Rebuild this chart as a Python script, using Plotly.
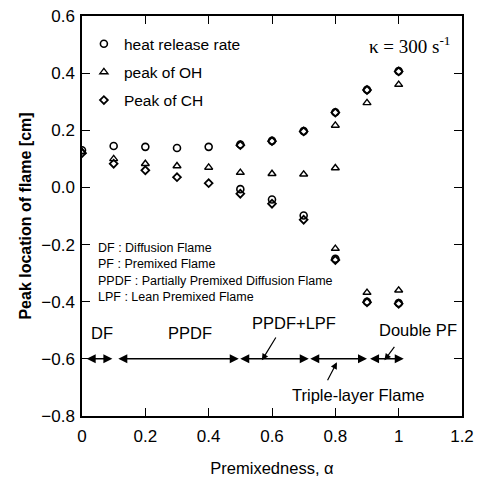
import plotly.graph_objects as go

# ---- data ----
hrr_alpha = [0.0, 0.1, 0.2, 0.3, 0.4, 0.5, 0.6, 0.7, 0.8, 0.9, 1.0,
             0.5, 0.6, 0.7, 0.8, 0.9, 1.0]
hrr_peak = [0.13, 0.145, 0.142, 0.138, 0.142, 0.15, 0.163, 0.197, 0.263, 0.342, 0.407,
            -0.006, -0.042, -0.098, -0.25, -0.40, -0.405]

oh_alpha = [0.0, 0.1, 0.2, 0.3, 0.4, 0.5, 0.6, 0.7, 0.8, 0.9, 1.0,
            0.8, 0.8, 0.9, 1.0]
oh_peak = [0.125, 0.10, 0.083, 0.075, 0.07, 0.052, 0.048, 0.046, 0.217, 0.296, 0.36,
           0.068, -0.214, -0.368, -0.36]

ch_alpha = [0.0, 0.1, 0.2, 0.3, 0.4, 0.5, 0.6, 0.7, 0.8, 0.9, 1.0,
            0.5, 0.6, 0.7, 0.8, 0.9, 1.0]
ch_peak = [0.12, 0.083, 0.06, 0.036, 0.015, -0.022, -0.057, -0.113, 0.262, 0.341, 0.406,
           0.148, 0.162, 0.196, -0.254, -0.402, -0.407]

# regime ranges along alpha (start, end) and their labels
regime_start = [0.01, 0.11, 0.495, 0.716, 0.905]
regime_end = [0.096, 0.495, 0.716, 0.90, 1.016]
regime_level = -0.6

x_ticks = [0, 0.2, 0.4, 0.6, 0.8, 1.0, 1.2]
x_ticktext = ["0", "0.2", "0.4", "0.6", "0.8", "1", "1.2"]
y_ticks = [-0.8, -0.6, -0.4, -0.2, 0.0, 0.2, 0.4, 0.6]

fig = go.Figure()
fig.add_trace(go.Scatter(x=hrr_alpha, y=hrr_peak, mode="markers", name="heat release rate",
                         legendgroup="a",
                         marker=dict(symbol="circle-open", size=7, color="black",
                                     line=dict(width=1.6, color="black"))))
fig.add_trace(go.Scatter(x=oh_alpha, y=oh_peak, mode="markers", name="peak of OH",
                         legendgroup="b",
                         marker=dict(symbol="triangle-up-open", size=7, color="black",
                                     line=dict(width=1.4, color="black"))))
fig.add_trace(go.Scatter(x=ch_alpha, y=ch_peak, mode="markers", name="Peak of CH",
                         legendgroup="c",
                         marker=dict(symbol="diamond-open", size=6, color="black",
                                     line=dict(width=1.8, color="black"))))

font = "Arial, Liberation Sans, sans-serif"

annotations = []
# double-headed arrows at regime level
for s, e in zip(regime_start, regime_end):
    annotations.append(dict(x=e, y=regime_level, ax=s, ay=regime_level,
                            xref="x", yref="y", axref="x", ayref="y",
                            text="", showarrow=True, arrowhead=2, arrowside="end+start",
                            arrowsize=1.2, arrowwidth=1.5, arrowcolor="black"))

# regime labels
labels = [("DF", 0.063, -0.51), ("PPDF", 0.34, -0.51), ("PPDF+LPF", 0.67, -0.475),
          ("Double PF", 1.06, -0.50), ("Triple-layer Flame", 0.87, -0.725)]
for t, x, y in labels:
    annotations.append(dict(x=x, y=y, xref="x", yref="y", text=t, showarrow=False,
                            font=dict(family=font, size=16.5, color="black")))

# pointer arrows
pointers = [(0.568, -0.605, 0.615, -0.52), (0.805, -0.612, 0.773, -0.68),
            (0.955, -0.605, 0.99, -0.553)]
for x, y, ax, ay in pointers:
    annotations.append(dict(x=x, y=y, ax=ax, ay=ay, xref="x", yref="y", axref="x", ayref="y",
                            text="", showarrow=True, arrowhead=2, arrowsize=1.1,
                            arrowwidth=1.2, arrowcolor="black"))

# definitions
annotations.append(dict(x=0.045, y=-0.18, xref="x", yref="y", xanchor="left", yanchor="top",
                        align="left", showarrow=False,
                        text="DF : Diffusion Flame<br>PF : Premixed Flame<br>"
                             "PPDF : Partially Premixed Diffusion Flame<br>LPF : Lean Premixed Flame",
                        font=dict(family=font, size=12.5, color="black")))

# kappa
annotations.append(dict(x=1.172, y=0.50, xref="x", yref="y", xanchor="right", showarrow=False,
                        text="κ = 300 s<sup>-1</sup>",
                        font=dict(family="Liberation Serif, Times New Roman, serif", size=19,
                                  color="black")))

fig.update_layout(
    width=481, height=477,
    margin=dict(l=82, r=19, t=16, b=61),
    plot_bgcolor="white", paper_bgcolor="white",
    font=dict(family=font, size=16, color="black"),
    showlegend=True,
    legend=dict(x=0.005, y=0.972, xanchor="left", yanchor="top", bgcolor="rgba(0,0,0,0)",
                font=dict(family=font, size=15.5, color="black"),
                traceorder="grouped", tracegroupgap=5),
    annotations=annotations,
    xaxis=dict(range=[0, 1.2], tickvals=x_ticks, ticktext=x_ticktext,
               ticks="inside", ticklen=8, tickwidth=1.2, tickcolor="black",
               showline=True, linecolor="black", linewidth=1.5, mirror="ticks",
               showgrid=False, zeroline=False, ticklabelstandoff=4, automargin=False,
               title=dict(text="Premixedness, α", font=dict(family=font, size=16.5), standoff=17),
               tickfont=dict(family=font, size=17)),
    yaxis=dict(range=[-0.8, 0.6], tickvals=y_ticks, tickformat=".1f",
               ticks="inside", ticklen=8, tickwidth=1.2, tickcolor="black",
               showline=True, linecolor="black", linewidth=1.5, mirror="ticks",
               showgrid=False, zeroline=False, ticklabelstandoff=2, automargin=False,
               title=dict(text="<b>Peak location of flame [cm]</b>",
                          font=dict(family=font, size=16), standoff=6),
               tickfont=dict(family=font, size=17)),
)

fig.write_html("out.html")
